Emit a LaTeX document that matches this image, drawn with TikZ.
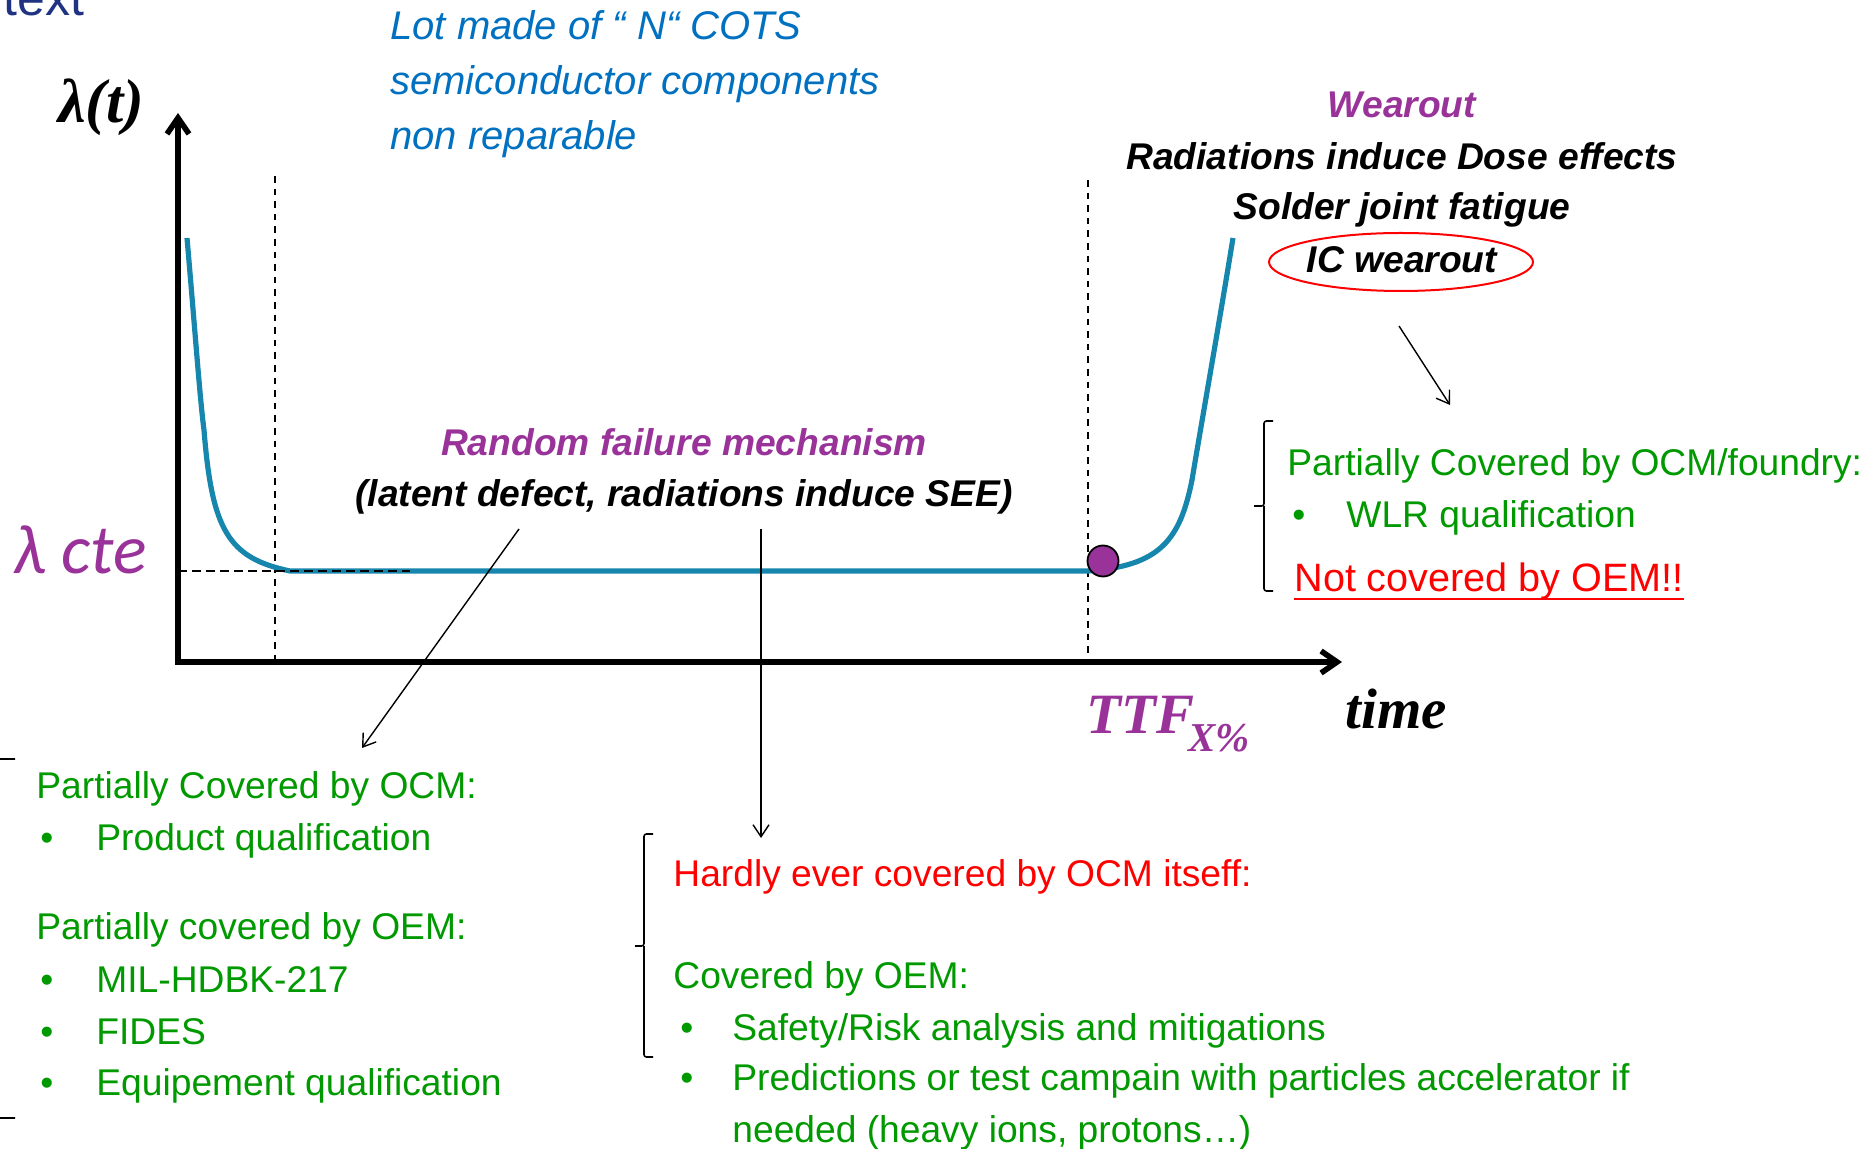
\documentclass[tikz,border=0pt]{standalone}
\usepackage{fontspec}
\setmainfont{Liberation Sans}
\newfontfamily\lserif{Liberation Serif}
\newfontfamily\carlito{Carlito}
\usetikzlibrary{arrows.meta,shapes.geometric}
\definecolor{ocmgreen}{RGB}{0,153,0}
\definecolor{wpurple}{RGB}{153,51,153}
\definecolor{cblue}{RGB}{0,112,192}
\definecolor{curvecol}{RGB}{23,134,172}
\definecolor{navyt}{RGB}{32,50,130}
\begin{document}
\begin{tikzpicture}[x=0.5pt,y=-0.5pt,
  txtbody/.style={font=\fontsize{18.6pt}{22pt}\selectfont, inner sep=0pt, anchor=base west},
  grn/.style={txtbody, text=ocmgreen},
  rd/.style={txtbody, text=red},
  bic/.style={font=\fontsize{18.6pt}{22pt}\selectfont\bfseries\itshape, inner sep=0pt, anchor=base},
  bluet/.style={font=\fontsize{20pt}{24pt}\selectfont\itshape, text=cblue, inner sep=0pt, anchor=base west},
  serifbi/.style={inner sep=0pt, anchor=base west},
  thinarrow/.style={line width=0.7pt, -{Straight Barb[length=6pt,width=8pt]}},
  bracket/.style={line width=0.8pt, rounded corners=1.2pt},
  vdash/.style={line width=0.65pt, dash pattern=on 3.3pt off 3pt},
  hdash/.style={line width=0.9pt, dash pattern=on 4.5pt off 2.5pt},
  axisline/.style={line width=2.8pt, line join=miter, {Straight Barb[length=8pt,width=11pt]}-{Straight Barb[length=8pt,width=11pt]}},
  lamcurve/.style={line width=2.6pt, draw=curvecol}
]
\useasboundingbox (0,0) rectangle (1865,1149);
\clip (0,0) rectangle (1865,1149);

% header fragment
\node[font=\fontsize{25pt}{28pt}\selectfont, text=navyt, anchor=base west, inner sep=0pt] (hdr) at (3,16) {text};

% blue text
\node[bluet] (blue1) at (390,40) {Lot made of “ N“ COTS};
\node[bluet] (blue2) at (390,95) {semiconductor components};
\node[bluet] (blue3) at (390,150) {non reparable};

% axes
\coordinate (O) at (178,662);
\coordinate (ytip) at (178,113);
\coordinate (xtip) at (1342,662);
\draw[axisline] (ytip) -- (O) -- (xtip);

% dashed guides
\coordinate (d1t) at (275,176); \coordinate (d1b) at (275,660);
\coordinate (d2t) at (1088,180); \coordinate (d2b) at (1088,660);
\coordinate (h1a) at (178,571); \coordinate (h1b) at (410,571);
\draw[vdash] (d1t) -- (d1b);
\draw[vdash] (d2t) -- (d2b);

% bathtub curve
\draw[lamcurve] (187,238) .. controls (195,330) and (200,400) .. (204,430)
  .. controls (212,530) and (228,558) .. (290,571) -- (1088,571)
  .. controls (1160,566) and (1180,540) .. (1192,480)
  .. controls (1202,420) and (1218,330) .. (1233,238);
\draw[hdash] (h1a) -- (h1b);
\node[circle, fill=wpurple, draw=black, line width=0.9pt, minimum size=15.5pt, inner sep=0pt] (dot) at (1103,561) {};

% axis labels
\node[serifbi, font=\lserif\fontsize{31pt}{34pt}\selectfont\bfseries\itshape] (lamt) at (58,123) {λ(t)};
\node[serifbi, font=\carlito\fontsize{35pt}{38pt}\selectfont\itshape, text=wpurple] (lcte) at (13,574) {λ cte};
\node[serifbi, font=\lserif\fontsize{28.5pt}{30pt}\selectfont\bfseries\itshape, text=wpurple] (ttf) at (1086,734) {TTF};
\node[serifbi, font=\lserif\fontsize{20.5pt}{22pt}\selectfont\bfseries\itshape, text=wpurple] (ttfsub) at (1188,752) {X\%};
\node[serifbi, font=\lserif\fontsize{28.5pt}{30pt}\selectfont\bfseries\itshape] (time) at (1345,729) {time};

% random failures
\node[bic, text=wpurple] (rand) at (684,456) {Random failure mechanism};
\node[bic] (latent) at (684,507) {(latent defect, radiations induce SEE)};

% wearout
\node[bic, text=wpurple] (wear) at (1402,118) {Wearout};
\node[bic] (dose) at (1402,170) {Radiations induce Dose effects};
\node[bic] (solder) at (1402,220) {Solder joint fatigue};
\node[bic] (icw) at (1402,273) {IC wearout};
\draw[red, line width=1pt] (1401,262) ellipse [x radius=66pt, y radius=14.5pt];

% arrows
\coordinate (a1s) at (519,529); \coordinate (a1e) at (362,748);
\coordinate (a2s) at (761,529); \coordinate (a2e) at (761,838);
\coordinate (a3s) at (1399,326); \coordinate (a3e) at (1450,405);
\draw[thinarrow] (a1s) -- (a1e);
\draw[thinarrow] (a2s) -- (a2e);
\draw[thinarrow] (a3s) -- (a3e);

% right block
\draw[bracket] (1273,421) -- (1264,421) -- (1264,506) -- (1254,506);
\draw[bracket] (1264,506) -- (1264,591) -- (1273,591);
\node[grn] (ocmf) at (1287,476) {Partially Covered by OCM/foundry:};
\node[grn] (rb1) at (1292,528) {•};
\node[grn] (wlr) at (1346,528) {WLR qualification};
\node[rd, font=\fontsize{19.8pt}{23pt}\selectfont] (notcov) at (1294,592) {Not covered by OEM!!};
\draw[red, line width=0.9pt] ([yshift=-3.6pt]notcov.base west) -- ([yshift=-3.6pt]notcov.base east);

% left block
\draw[bracket] (15,759) -- (-2,759) -- (-2,1118) -- (15,1118);
\node[grn] (pocm) at (36,799) {Partially Covered by OCM:};
\node[grn] (lb1) at (40,850) {•};
\node[grn] (prodq) at (96,850) {Product qualification};
\node[grn] (poem) at (36,940) {Partially covered by OEM:};
\node[grn] (lb2) at (40,992) {•};
\node[grn] (mil) at (96,992) {MIL-HDBK-217};
\node[grn] (lb3) at (40,1044) {•};
\node[grn] (fides) at (96,1044) {FIDES};
\node[grn] (lb4) at (40,1095) {•};
\node[grn] (equip) at (96,1095) {Equipement qualification};

% middle block
\draw[bracket] (653,834) -- (644,834) -- (644,946) -- (635,946);
\draw[bracket] (644,946) -- (644,1057) -- (653,1057);
\node[rd] (hardly) at (673,886) {Hardly ever covered by OCM itseff:};
\node[grn] (covoem) at (673,988) {Covered by OEM:};
\node[grn] (mb1) at (680,1040) {•};
\node[grn] (safety) at (732,1040) {Safety/Risk analysis and mitigations};
\node[grn] (mb2) at (680,1090) {•};
\node[grn] (pred) at (732,1090) {Predictions or test campain with particles accelerator if};
\node[grn] (needed) at (732,1142) {needed (heavy ions, protons…)};
\end{tikzpicture}
\end{document}
